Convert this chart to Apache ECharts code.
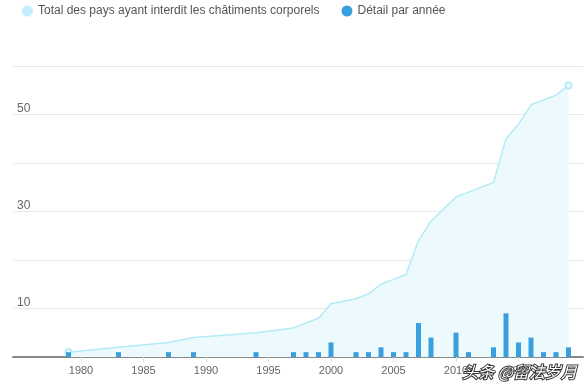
<!DOCTYPE html>
<html><head><meta charset="utf-8">
<script src="https://cdn.jsdelivr.net/npm/echarts@6/dist/echarts.min.js"></script>
<style>html,body{margin:0;padding:0;background:#fff}#c{width:588px;height:387px}</style>
</head><body><div id="c"></div>
<script>
const years = [1979,1983,1987,1989,1994,1997,1998,1999,2000,2002,2003,2004,2005,2006,2007,2008,2010,2011,2013,2014,2015,2016,2017,2018,2019];
const perYear = [1,1,1,1,1,1,1,1,3,1,1,2,1,1,7,4,5,1,2,9,3,4,1,1,2];
const totals = [1,2,3,4,5,6,7,8,11,12,13,15,16,17,24,28,33,34,36,45,48,52,53,54,56];
const xTickLabels = [1980,1985,1990,1995,2000,2005,2010,2015];
const yTickLabels = [10,30,50];
const seriesNames = ['Total des pays ayant interdit les châtiments corporels','Détail par année'];

const font = '"Liberation Sans", Arial, sans-serif';
const chart = echarts.init(document.getElementById('c'), null, {renderer:'canvas'});
const lastIdx = years.length - 1;
chart.setOption({
  animation:false,
  legend:{
    top:0, left:17, itemWidth:11, itemHeight:11, itemGap:22, icon:'circle',
    textStyle:{fontFamily:font, fontSize:12, color:'#555'},
    data:[{name:seriesNames[0], itemStyle:{color:'#c3eefb'}},{name:seriesNames[1], itemStyle:{color:'#3a9fdf'}}]
  },
  grid:{left:13, right:5, top:66, bottom:30, containLabel:false},
  xAxis:{
    type:'value', min:1974.56, max:2020.16,
    axisLine:{show:true, onZero:false, lineStyle:{color:'#888', width:2}},
    axisTick:{show:true, customValues:xTickLabels, length:5, lineStyle:{color:'#ddd'}},
    axisLabel:{customValues:xTickLabels, formatter:v=>String(v), fontFamily:font, fontSize:11, color:'#666', margin:8},
    splitLine:{show:false}
  },
  yAxis:{
    type:'value', min:0, max:60, interval:10,
    axisLine:{show:false}, axisTick:{show:false},
    axisLabel:{inside:true, customValues:yTickLabels, fontFamily:font, fontSize:12, color:'#666',
      verticalAlign:'bottom', margin:4, padding:[0,0,0,0]},
    splitLine:{lineStyle:{color:'#e8e8e8', width:1}}
  },
  series:[
    {
      name:seriesNames[0], type:'line',
      data:years.map((y,i)=>[y,totals[i]]),
      symbol:'emptyCircle',
      symbolSize:(v,p)=> (p.dataIndex===0||p.dataIndex===lastIdx)?6:0,
      lineStyle:{color:'#b3ebf6', width:1.5},
      itemStyle:{color:'#b3ebf6', borderColor:'#b3ebf6'},
      areaStyle:{color:'#edfafd', opacity:1},
      z:1
    },
    {
      name:seriesNames[1], type:'bar',
      data:years.map((y,i)=>[y,perYear[i]]),
      barWidth:5,
      itemStyle:{color:'#3a9fdf'},
      z:3
    }
  ],
  graphic:[{
    type:'text', right:10, bottom:6,
    style:{text:'头条 @留法岁月', font:'italic 16px "Noto Sans CJK SC"', fill:'#fff', stroke:'#333', lineWidth:2}
  }]
});
</script></body></html>
